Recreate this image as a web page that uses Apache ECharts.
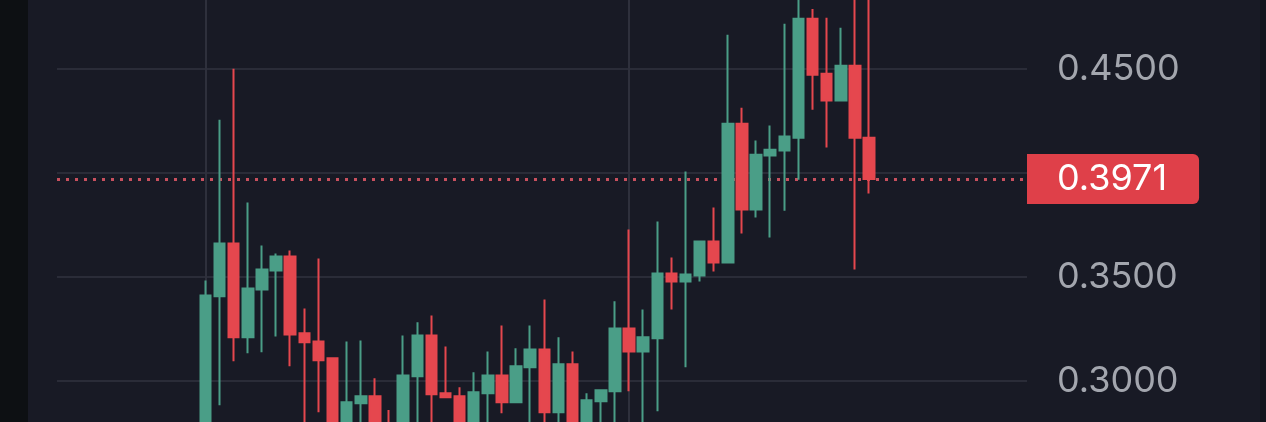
<!DOCTYPE html>
<html>
<head>
<meta charset="utf-8">
<script src="https://cdn.jsdelivr.net/npm/echarts@6/dist/echarts.min.js"></script>
<style>
  html, body { margin: 0; padding: 0; }
  body {
    width: 1266px; height: 422px; overflow: hidden;
    background: linear-gradient(to right, #0d1013 0 28px, #181a25 28px 1260px, #13151d 1260px);
  }
  #chart { width: 1266px; height: 422px; }
</style>
</head>
<body>
<div id="chart"></div>
<script>
// candle values: [open, close, low, high]
const candles = [
  [0.2700, 0.3411, 0.2650, 0.3483],
  [0.3407, 0.3661, 0.2884, 0.4256],
  [0.3661, 0.3210, 0.3095, 0.4501],
  [0.3210, 0.3445, 0.3133, 0.3858],
  [0.3440, 0.3536, 0.3138, 0.3651],
  [0.3531, 0.3599, 0.3214, 0.3613],
  [0.3599, 0.3224, 0.3071, 0.3627],
  [0.3229, 0.3186, 0.2750, 0.3349],
  [0.3190, 0.3100, 0.2850, 0.3589],
  [0.3109, 0.2760, 0.2720, 0.3114],
  [0.2760, 0.2898, 0.2720, 0.3190],
  [0.2893, 0.2927, 0.2750, 0.3195],
  [0.2927, 0.2770, 0.2740, 0.3013],
  [0.2790, 0.2700, 0.2680, 0.2860],
  [0.2760, 0.3027, 0.2720, 0.3219],
  [0.3023, 0.3219, 0.2760, 0.3282],
  [0.3219, 0.2936, 0.2770, 0.3315],
  [0.2941, 0.2922, 0.2922, 0.3166],
  [0.2927, 0.2760, 0.2730, 0.2970],
  [0.2770, 0.2946, 0.2730, 0.3042],
  [0.2941, 0.3027, 0.2770, 0.3142],
  [0.3027, 0.2898, 0.2845, 0.3267],
  [0.2898, 0.3071, 0.2898, 0.3157],
  [0.3066, 0.3152, 0.2770, 0.3267],
  [0.3152, 0.2850, 0.2780, 0.3392],
  [0.2850, 0.3080, 0.2780, 0.3210],
  [0.3080, 0.2770, 0.2740, 0.3142],
  [0.2780, 0.2907, 0.2750, 0.2941],
  [0.2903, 0.2955, 0.2770, 0.2960],
  [0.2951, 0.3253, 0.2770, 0.3383],
  [0.3253, 0.3142, 0.2951, 0.3728],
  [0.3142, 0.3210, 0.2780, 0.3344],
  [0.3205, 0.3517, 0.2855, 0.3767],
  [0.3517, 0.3478, 0.3344, 0.3594],
  [0.3478, 0.3512, 0.3066, 0.4007],
  [0.3507, 0.3671, 0.3478, 0.3675],
  [0.3671, 0.3570, 0.3527, 0.3834],
  [0.3570, 0.4237, 0.3570, 0.4665],
  [0.4237, 0.3824, 0.3709, 0.4314],
  [0.3824, 0.4088, 0.3786, 0.4156],
  [0.4084, 0.4112, 0.3690, 0.4228],
  [0.4108, 0.4175, 0.3819, 0.4717],
  [0.4170, 0.4741, 0.3968, 0.4900],
  [0.4741, 0.4472, 0.4304, 0.4789],
  [0.4477, 0.4348, 0.4122, 0.4746],
  [0.4348, 0.4516, 0.4348, 0.4698],
  [0.4516, 0.4170, 0.3536, 0.4920],
  [0.4170, 0.3971, 0.3901, 0.4880]
];
const lastPrice = 0.3971;
const hiddenTicks = [0.40];
const verticalMarks = [0, 30];

const chart = echarts.init(document.getElementById('chart'));

chart.setOption({
  animation: false,
  grid: { left: 57, right: 239, top: -35, bottom: -63, outerBoundsMode: 'none', containLabel: false },
  xAxis: {
    type: 'value',
    min: -10.52,
    max: 58.19,
    axisLine: { show: false },
    axisTick: { show: false },
    axisLabel: { show: false },
    splitLine: { show: false }
  },
  yAxis: {
    type: 'value',
    position: 'right',
    min: 0.25,
    max: 0.50,
    interval: 0.05,
    axisLine: { show: true, lineStyle: { color: '#b3b6be', width: 2 } },
    axisTick: { show: false },
    axisLabel: {
      margin: 30,
      color: '#a3a6ae',
      fontFamily: 'Inter',
      fontSize: 36,
      formatter: v => hiddenTicks.some(t => Math.abs(t - v) < 1e-6) ? '' : v.toFixed(4)
    },
    splitLine: { lineStyle: { color: '#2a2c38', width: 2 } }
  },
  series: [{
    type: 'candlestick',
    barWidth: 11,
    clip: false,
    data: candles.map((c, i) => [i, c[0], c[1], c[2], c[3]]),
    itemStyle: {
      color: '#4a9e87',
      color0: '#e5474e',
      borderColor: '#4a9e87',
      borderColor0: '#e5474e',
      borderWidth: 2
    },
    markLine: {
      silent: true,
      symbol: 'none',
      animation: false,
      precision: 4,
      z: 1,
      data: [
        {
          yAxis: lastPrice,
          lineStyle: { color: '#c8505e', type: [3, 6], width: 3 },
          label: {
            show: true,
            position: 'end',
            distance: 0,
            formatter: lastPrice.toFixed(4),
            color: '#ffffff',
            fontFamily: 'Inter',
            fontSize: 36,
            lineHeight: 40,
            backgroundColor: '#df4049',
            borderRadius: [0, 6, 6, 0],
            padding: [5, 32, 5, 30]
          }
        },
        ...verticalMarks.map(x => ({
          xAxis: x,
          lineStyle: { color: '#2e303c', type: 'solid', width: 2 },
          label: { show: false }
        }))
      ]
    }
  }]
});
</script>
</body>
</html>
